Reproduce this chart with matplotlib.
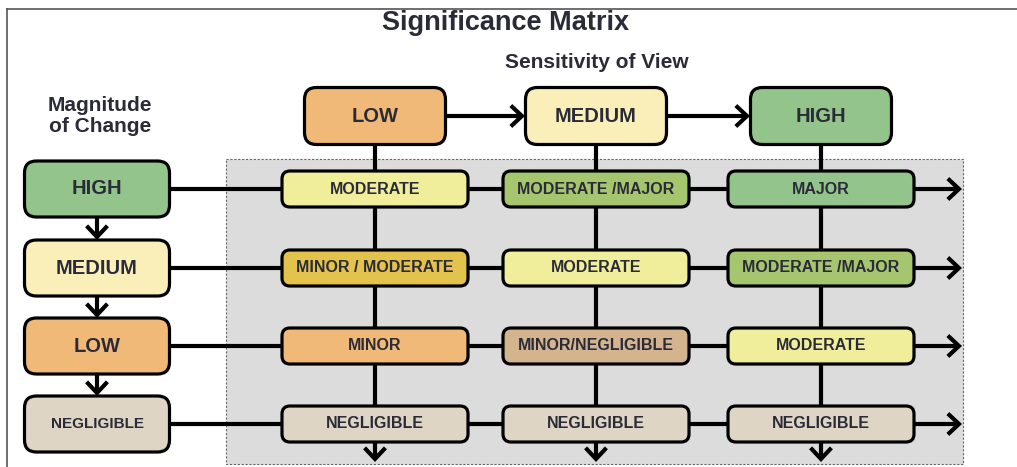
import matplotlib.pyplot as plt
from matplotlib.patches import FancyBboxPatch, Rectangle

plt.rcParams['font.family'] = ['Liberation Sans', 'DejaVu Sans']

# data
sensitivity = ['LOW', 'MEDIUM', 'HIGH']
magnitude = ['HIGH', 'MEDIUM', 'LOW', 'NEGLIGIBLE']
sens_colors = ['#f0b978', '#faeeb9', '#93c48b']
mag_colors = ['#93c48b', '#faeeb9', '#f0b978', '#ded5c5']
matrix = [
    ['MODERATE', 'MODERATE /MAJOR', 'MAJOR'],
    ['MINOR / MODERATE', 'MODERATE', 'MODERATE /MAJOR'],
    ['MINOR', 'MINOR/NEGLIGIBLE', 'MODERATE'],
    ['NEGLIGIBLE', 'NEGLIGIBLE', 'NEGLIGIBLE'],
]
matrix_colors = [
    ['#f1ee9b', '#a6c56f', '#93c48b'],
    ['#e3c34c', '#f1ee9b', '#a6c56f'],
    ['#f0b978', '#d3b48f', '#f1ee9b'],
    ['#ded5c5', '#ded5c5', '#ded5c5'],
]

# layout (pixels)
col_x = [375, 596, 821]
row_y = [189, 268, 346, 424]
head_y = 116
left_x = 97
txt = '#2b2b38'

fig = plt.figure(figsize=(10.17, 4.67), dpi=100)
ax = fig.add_axes([0, 0, 1, 1])
ax.set_xlim(0, 1017)
ax.set_ylim(467, 0)
ax.axis('off')


def box(cx, cy, w, h, color, label, size, r=12, z=5):
    ax.add_patch(FancyBboxPatch((cx - w / 2, cy - h / 2), w, h,
                                boxstyle=f'round,pad=0,rounding_size={r}',
                                fc=color, ec='black', lw=2.3, zorder=z))
    ax.text(cx, cy, label, ha='center', va='center', fontsize=size,
            fontweight='bold', color=txt, zorder=z + 1)


def arrow(x0, y0, x1, y1, z=2):
    ax.annotate('', xy=(x1, y1), xytext=(x0, y0),
                arrowprops=dict(arrowstyle='->,head_length=0.8,head_width=0.75',
                                lw=3, color='black', shrinkA=0, shrinkB=0,
                                joinstyle='miter', capstyle='butt'),
                zorder=z)


# outer frame
ax.plot([7, 1017], [9, 9], color='#555555', lw=1.2)
ax.plot([7, 7], [9, 467], color='#555555', lw=1.2)

# gray matrix area
ax.add_patch(Rectangle((226, 159), 737, 305, fc='#dcdcdc', ec='#666666',
                       lw=0.8, ls=(0, (2, 1.5)), zorder=0))

ax.text(506, 23, 'Significance Matrix', ha='center', va='center',
        fontsize=19.5, fontweight='bold', color=txt)
ax.text(597, 63, 'Sensitivity of View', ha='center', va='center',
        fontsize=15, fontweight='bold', color=txt)
ax.text(100, 116, 'Magnitude\nof Change', ha='center', va='center',
        fontsize=15, fontweight='bold', color=txt, linespacing=1.15)

# connectors
for i, x in enumerate(col_x):
    arrow(x, head_y, x, 462)
for j, y in enumerate(row_y):
    arrow(left_x, y, 962, y)
for i in range(len(col_x) - 1):
    arrow(col_x[i] + 70, head_y, col_x[i + 1] - 71, head_y, z=4)
for j in range(len(row_y) - 1):
    arrow(left_x, row_y[j] + 28, left_x, row_y[j + 1] - 28, z=4)

# header boxes
for i, lab in enumerate(sensitivity):
    box(col_x[i], head_y, 141, 57, sens_colors[i], lab, 14.5)

for j, lab in enumerate(magnitude):
    box(left_x, row_y[j], 145, 56, mag_colors[j], lab,
        11 if len(lab) > 6 else 14.5)

# matrix cells
for j in range(len(magnitude)):
    for i in range(len(sensitivity)):
        box(col_x[i], row_y[j], 186, 36, matrix_colors[j][i], matrix[j][i],
            11.5, r=8)

fig.savefig('out.png', dpi=100)
